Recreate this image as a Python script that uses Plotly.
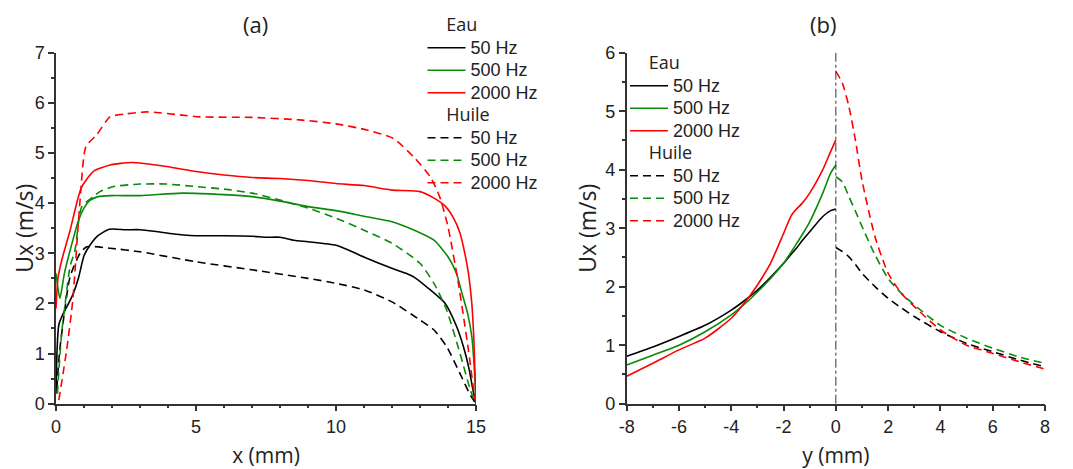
import plotly.graph_objects as go

# ---------------- Panel (a) data : Ux vs x (mm) ----------------
a_eau50_x = [0, 0.04, 0.1, 0.26, 0.45, 0.62, 0.8, 1.0, 1.2, 1.5, 1.9, 2.5, 3.0, 3.5, 4.0, 5.0, 6.0, 7.0, 7.5, 8.0, 8.5, 9.0, 10.0, 10.5, 11.1, 11.9, 12.5, 12.8, 13.3, 13.9, 14.3, 14.55, 14.75, 14.9, 15.0]
a_eau50_y = [0.2, 1.1, 1.57, 1.8, 2.0, 2.2, 2.5, 2.95, 3.15, 3.35, 3.48, 3.47, 3.47, 3.44, 3.4, 3.35, 3.35, 3.34, 3.32, 3.32, 3.26, 3.23, 3.16, 3.05, 2.9, 2.72, 2.6, 2.52, 2.3, 2.0, 1.55, 1.14, 0.7, 0.25, 0.0]

a_eau500_x = [0, 0.07, 0.14, 0.3, 0.5, 0.8, 1.0, 1.2, 1.5, 2.0, 3.0, 4.5, 6.0, 7.0, 8.0, 9.0, 10.0, 11.0, 12.0, 12.8, 13.5, 14.0, 14.3, 14.5, 14.7, 14.85, 14.95, 15.0]
a_eau500_y = [2.6, 2.3, 2.1, 2.6, 3.05, 3.65, 3.9, 4.05, 4.13, 4.15, 4.15, 4.2, 4.17, 4.13, 4.04, 3.93, 3.85, 3.74, 3.63, 3.46, 3.26, 2.93, 2.6, 2.2, 1.8, 1.34, 0.6, 0.0]

a_eau2000_x = [0, 0.07, 0.2, 0.5, 0.9, 1.33, 1.93, 2.7, 3.95, 5.0, 6.0, 7.0, 8.0, 9.0, 10.0, 11.0, 12.0, 13.0, 13.5, 13.9, 14.2, 14.43, 14.6, 14.73, 14.85, 14.93, 15.0]
a_eau2000_y = [1.9, 2.5, 2.85, 3.45, 4.3, 4.63, 4.76, 4.81, 4.73, 4.63, 4.56, 4.51, 4.49, 4.45, 4.39, 4.35, 4.26, 4.23, 4.1, 3.94, 3.7, 3.4, 3.0, 2.6, 2.0, 1.2, 0.0]

a_huile50_x = [0.03, 0.12, 0.25, 0.5, 0.86, 1.1, 1.93, 3.0, 5.0, 7.0, 9.0, 10.0, 11.0, 12.0, 13.0, 13.5, 13.95, 14.43, 14.8, 15.0]
a_huile50_y = [0.3, 1.0, 1.6, 2.53, 3.0, 3.13, 3.1, 3.03, 2.83, 2.67, 2.5, 2.4, 2.27, 2.03, 1.67, 1.47, 1.14, 0.6, 0.17, 0.0]

a_huile500_x = [0.05, 0.12, 0.2, 0.35, 0.5, 0.68, 0.92, 1.33, 1.57, 2.05, 3.0, 3.95, 5.0, 6.0, 7.0, 8.0, 9.0, 10.0, 11.0, 12.0, 13.0, 13.5, 13.95, 14.43, 14.8, 14.95]
a_huile500_y = [0.2, 0.8, 1.4, 2.1, 2.73, 3.07, 3.93, 4.13, 4.23, 4.33, 4.38, 4.38, 4.33, 4.28, 4.2, 4.06, 3.9, 3.7, 3.46, 3.2, 2.8, 2.4, 1.87, 1.0, 0.27, 0.05]

a_huile2000_x = [0.1, 0.38, 0.6, 0.86, 1.07, 1.45, 1.93, 2.5, 3.24, 4.43, 5.14, 7.0, 8.7, 10.0, 11.1, 12.05, 12.76, 13.36, 13.7, 14.0, 14.37, 14.73, 14.96]
a_huile2000_y = [0.07, 1.07, 2.07, 4.06, 5.13, 5.36, 5.72, 5.78, 5.82, 5.76, 5.72, 5.71, 5.66, 5.58, 5.46, 5.29, 4.93, 4.53, 4.13, 3.53, 2.4, 1.07, 0.07]

# ---------------- Panel (b) data : Ux vs y (mm) ----------------
b_neg_y = [-8, -7, -6, -5, -4, -3.5, -3, -2.5, -2, -1.7, -1.5, -1.3, -1, -0.5, -0.2, 0]
b_eau50 = [0.81, 0.97, 1.15, 1.34, 1.6, 1.76, 1.94, 2.16, 2.4, 2.56, 2.66, 2.78, 2.94, 3.2, 3.3, 3.33]
b_eau500 = [0.66, 0.83, 1.0, 1.23, 1.52, 1.7, 1.91, 2.14, 2.4, 2.6, 2.74, 2.88, 3.11, 3.6, 3.94, 4.08]
b_eau2000 = [0.47, 0.69, 0.92, 1.12, 1.46, 1.72, 2.03, 2.4, 2.91, 3.22, 3.33, 3.42, 3.6, 4.0, 4.31, 4.51]

b_pos_y = [0, 0.25, 0.5, 0.75, 1, 1.5, 2, 2.5, 3, 4, 5, 6, 7, 8]
b_huile50 = [2.67, 2.6, 2.51, 2.38, 2.23, 2.0, 1.8, 1.64, 1.49, 1.23, 1.03, 0.89, 0.75, 0.63]
b_huile500 = [3.88, 3.79, 3.54, 3.29, 3.03, 2.54, 2.14, 1.89, 1.69, 1.34, 1.12, 0.95, 0.8, 0.69]
b_huile2000 = [5.68, 5.48, 5.08, 4.5, 3.82, 2.85, 2.23, 1.89, 1.66, 1.26, 1.0, 0.86, 0.72, 0.59]

center_line_y = 0

# ---------------- tick labels ----------------
a_xticks = [0, 5, 10, 15]
a_xticklabels = ["0", "5", "10", "15"]
a_yticks = [0, 1, 2, 3, 4, 5, 6, 7]
b_xticks = [-8, -6, -4, -2, 0, 2, 4, 6, 8]
b_xticklabels = ["-8", "-6", "-4", "-2", "0", "2", "4", "6", "8"]
b_yticks = [0, 1, 2, 3, 4, 5, 6]

labels = ["50 Hz", "500 Hz", "2000 Hz"]
groups = ["Eau", "Huile"]
colors = ["#000000", "#0a8a0a", "#ff0000"]

TXT = "Liberation Sans"
TTL = "Open Sans"
AX = "#333333"
INK = "#222222"

# page body has an 8px margin: figure sized so that it fits the 1073x469 window
W, H = 1065, 461

fig = go.Figure()

a_sets = [
    (a_eau50_x, a_eau50_y), (a_eau500_x, a_eau500_y), (a_eau2000_x, a_eau2000_y),
    (a_huile50_x, a_huile50_y), (a_huile500_x, a_huile500_y), (a_huile2000_x, a_huile2000_y),
]
b_sets = [
    (b_neg_y, b_eau50), (b_neg_y, b_eau500), (b_neg_y, b_eau2000),
    (b_pos_y, b_huile50), (b_pos_y, b_huile500), (b_pos_y, b_huile2000),
]

for panel, sets, xa, ya, leg in [("a", a_sets, "x", "y", "legend"), ("b", b_sets, "x2", "y2", "legend2")]:
    for i, (xs, ys) in enumerate(sets):
        g = groups[i // 3]
        dash = "solid" if i < 3 else "8px,5px"
        fig.add_trace(go.Scatter(
            x=xs, y=ys, mode="lines", xaxis=xa, yaxis=ya,
            name='<span style="font-size:18px">' + labels[i % 3] + "</span>",
            legend=leg,
            legendgroup=panel + g,
            legendgrouptitle=dict(
                text='<span style="font-size:18px">' + "\u00a0" * 4 + g + "</span>",
                font=dict(family=TTL, size=15, color=INK)),
            line=dict(color=colors[i % 3], width=1.6, dash=dash, shape="spline", smoothing=0.6),
            showlegend=True,
        ))

# vertical centre line in panel (b)
fig.add_trace(go.Scatter(x=[center_line_y, center_line_y], y=[0, 6], mode="lines",
                         xaxis="x2", yaxis="y2", showlegend=False,
                         line=dict(color="#333333", width=1, dash="dashdot")))

YDOM = [1 - 395.7 / H, 1 - 44.7 / H]

def xax(domain, rng, tv, tt, title, anchor):
    return dict(domain=domain, range=rng, tickmode="array", tickvals=tv, ticktext=tt,
                showgrid=False, zeroline=False, automargin=False, anchor=anchor,
                showline=True, linecolor=AX, linewidth=1.5, ticks="outside", ticklen=6, tickwidth=1.5,
                tickcolor=AX, tickfont=dict(family=TXT, size=18, color=INK),
                minor=dict(dtick=1, tick0=0, ticks="outside", ticklen=3, tickwidth=1.5, tickcolor=AX, showgrid=False),
                title=dict(text=title, font=dict(family=TTL, size=21, color=INK), standoff=12))

def yax(rng, tv, title, anchor):
    return dict(domain=YDOM, range=rng, tickmode="array", tickvals=tv,
                showgrid=False, zeroline=False, automargin=False, anchor=anchor,
                showline=True, linecolor=AX, linewidth=1.5, ticks="outside", ticklen=6, tickwidth=1.5,
                tickcolor=AX, tickfont=dict(family=TXT, size=18, color=INK),
                minor=dict(dtick=0.5, tick0=0, ticks="outside", ticklen=3, tickwidth=1.5, tickcolor=AX, showgrid=False),
                title=dict(text=title, font=dict(family=TTL, size=23, color=INK), standoff=2))

fig.update_layout(
    width=W, height=H,
    margin=dict(l=0, r=0, t=0, b=0, autoexpand=False),
    paper_bgcolor="white", plot_bgcolor="white",
    xaxis=xax([48 / W, 468 / W], [0, 15], a_xticks, a_xticklabels, "x (mm)", "y"),
    yaxis=yax([0, 7], a_yticks, "Ux (m/s)", "x"),
    xaxis2=xax([618.7 / W, 1037 / W], [-8, 8], b_xticks, b_xticklabels, "y (mm)", "y2"),
    yaxis2=yax([0, 6], b_yticks, "Ux (m/s)", "x2"),
    legend=dict(x=414.5 / W, y=1 - 1 / H, xanchor="left", yanchor="top", bgcolor="rgba(0,0,0,0)",
                font=dict(family=TXT, size=15, color=INK), tracegroupgap=0, itemwidth=38,
                traceorder="grouped"),
    legend2=dict(x=617 / W, y=1 - 39 / H, xanchor="left", yanchor="top", bgcolor="rgba(0,0,0,0)",
                 font=dict(family=TXT, size=15, color=INK), tracegroupgap=0, itemwidth=38,
                 traceorder="grouped"),
    annotations=[
        dict(text="(a)", x=247 / W, y=1 - 16 / H, xref="paper", yref="paper", showarrow=False,
             xanchor="center", yanchor="middle", font=dict(family=TTL, size=22, color=INK)),
        dict(text="(b)", x=815 / W, y=1 - 16 / H, xref="paper", yref="paper", showarrow=False,
             xanchor="center", yanchor="middle", font=dict(family=TTL, size=22, color=INK)),
    ],
)

fig.write_html("out.html")
